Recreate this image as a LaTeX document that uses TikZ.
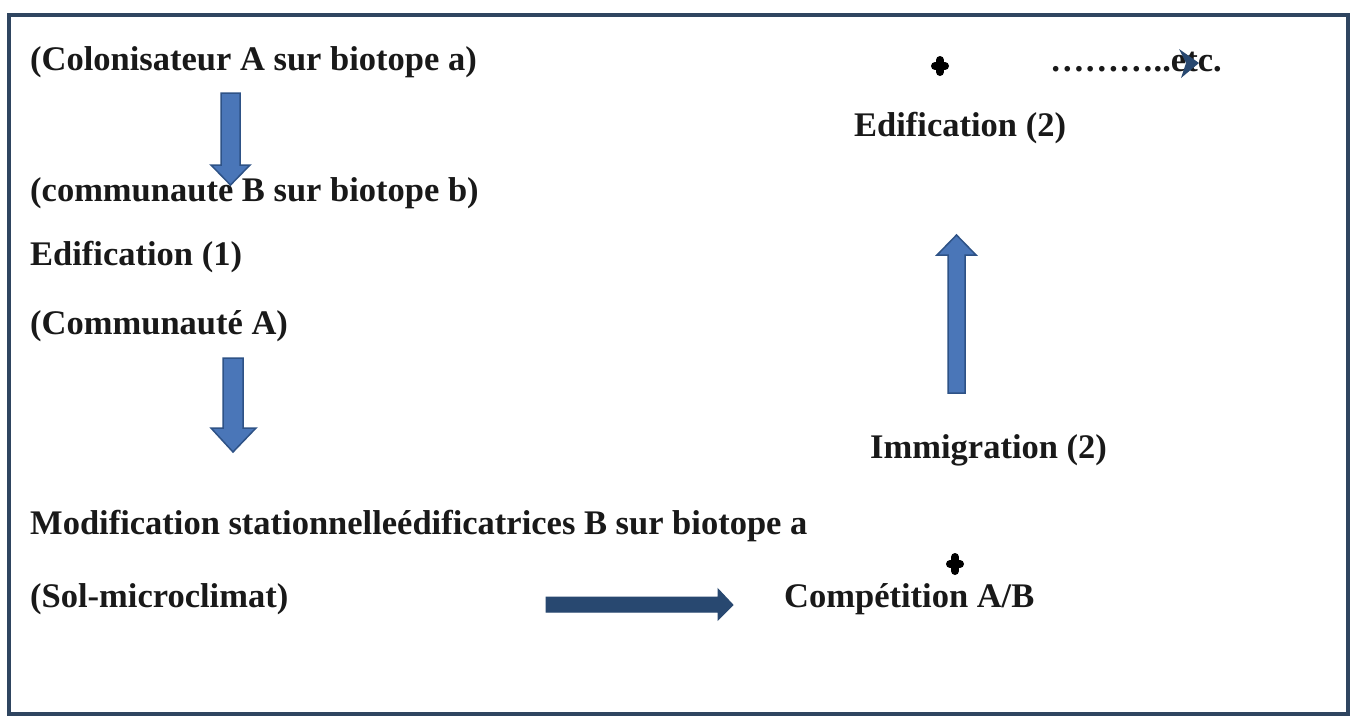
\documentclass[tikz,border=0pt]{standalone}
\usepackage{fontspec}
\setmainfont{Liberation Serif}
\definecolor{frame}{HTML}{2F4560}
\definecolor{arrblue}{HTML}{4A76B8}
\definecolor{arredge}{HTML}{2E5286}
\definecolor{navy}{HTML}{284870}
\begin{document}
\begin{tikzpicture}[x=1pt,y=-1pt,
  lbl/.style={anchor=base west,inner sep=0pt,font=\fontsize{34.5}{40}\selectfont\bfseries,text=black!90},
  blockarrow/.style={fill=arrblue,draw=arredge,line width=1.5pt,line join=miter},
  navyarrow/.style={fill=navy,draw=navy,line width=1pt},
  plusmark/.style={line width=8pt,line cap=round,draw=black}]
\useasboundingbox (0,0) rectangle (1356,716);
\fill[white] (0,0) rectangle (1356,716);
\draw[frame,line width=3.5pt] (9,15) rectangle (1348,714);
% texts
\node[lbl] (colA) at (30,70) {(Colonisateur A sur biotope a)};
\node[lbl] (commB) at (30,201) {(communaute B sur biotope b)};
\node[lbl] (edif1) at (30,265) {Edification (1)};
\node[lbl] (commA) at (30,334) {(Communauté A)};
\node[lbl] (modif) at (30,534) {Modification stationnelleédificatrices B sur biotope a};
\node[lbl] (sol) at (30,607) {(Sol-microclimat)};
\node[lbl] (comp) at (784,607) {Compétition A/B};
\node[lbl] (immig) at (870,458) {Immigration (2)};
\node[lbl] (edif2) at (854,136) {Edification (2)};
\node[lbl] (etc) at (1050,71) {………..etc.};
% block arrows
\draw[blockarrow] (221,93) -- (240,93) -- (240,165) -- (250,165) -- (230.5,185) -- (211,165) -- (221,165) -- cycle;
\draw[blockarrow] (223,358) -- (243,358) -- (243,428) -- (256,428) -- (233,452) -- (211,428) -- (223,428) -- cycle;
\draw[navyarrow] (546,597) -- (718,597) -- (718,589) -- (733,605) -- (718,620) -- (718,612) -- (546,612) -- cycle;
\draw[blockarrow] (948,393) -- (948,255) -- (937,255) -- (956.5,235) -- (976,255) -- (965,255) -- (965,393) -- cycle;
\fill[navy] (1179,49) -- (1199,63) -- (1181,78) -- (1186,63) -- cycle;
% plus marks
\draw[plusmark] (935,66) -- (945,66) (940,60) -- (940,72);
\draw[plusmark] (950,564) -- (960,564) (955,557) -- (955,571);
\end{tikzpicture}
\end{document}
